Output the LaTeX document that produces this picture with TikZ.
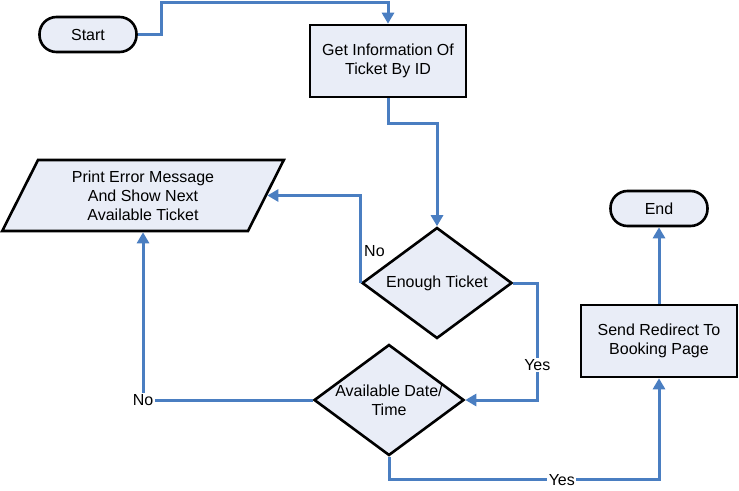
\documentclass[tikz,border=0pt]{standalone}
\usepackage{fontspec}
\setmainfont{Liberation Sans}
\usetikzlibrary{
    arrows.meta,     % For the Triangle arrow tips
    shapes.geometric % For diamond and trapezium
}
\definecolor{boxfill}{RGB}{233,237,247}
\definecolor{flowblue}{RGB}{74,126,193}

\begin{document}
\begin{tikzpicture}[
    x=1pt, y=-1pt,
    every node/.style={font=\fontsize{16}{19}\selectfont},
    shape_base/.style={draw=black, line width=2.6pt, fill=boxfill, align=center, inner sep=0pt},
    terminal/.style={shape_base, rectangle, rounded corners=17pt, minimum width=97pt, minimum height=35pt},
    process/.style={shape_base, rectangle, minimum width=156pt, minimum height=72pt},
    decision/.style={shape_base, diamond, aspect=1.35, minimum width=150pt, minimum height=111pt},
    io/.style={shape_base, trapezium, trapezium left angle=64, trapezium right angle=116, trapezium stretches=true, minimum width=282pt, minimum height=71pt},
    arrow/.style={draw=flowblue, line width=3pt, -{Triangle[length=11pt,width=12pt]}},
    edge_lbl/.style={fill=white, inner sep=1.5pt}
]
    \useasboundingbox (0,0) rectangle (739,490);

    % Start and first step
    \node[terminal] (start) at (88,34.5) {Start};
    \node[process] (getinfo) at (388,61) {Get Information Of\\Ticket By ID};

    % Decisions
    \node[decision] (enough) at (437,283) {Enough Ticket};
    \node[decision] (avail) at (389,400) {Available Date/\\Time};

    % Error output
    \node[io] (error) at (143,195.5) {Print Error Message\\And Show Next\\Available Ticket};

    % Success path
    \node[process] (send) at (659,341) {Send Redirect To\\Booking Page};
    \node[terminal] (finish) at (659,208.5) {End};

    % Connectors
    \draw[arrow] (start.east) -- ++(24,0) -- ++(0,-32) -| (getinfo.north);
    \draw[arrow] (getinfo.south) -- ++(0,25) -| (enough.north);
    \draw[arrow] (enough.west) |- node[pos=0.18, anchor=west, inner sep=2pt]{No} (error.right side);
    \draw[arrow] (enough.east) -- ++(24,0) |- node[pos=0.35, edge_lbl]{Yes} (avail.east);
    \draw[arrow] (avail.west) -| node[pos=0.5, edge_lbl]{No} (error.south);
    \draw[arrow] (avail.south) -- ++(0,23) -| node[pos=0.32, edge_lbl]{Yes} (send.south);
    \draw[arrow] (send.north) -- (finish.south);
\end{tikzpicture}
\end{document}
